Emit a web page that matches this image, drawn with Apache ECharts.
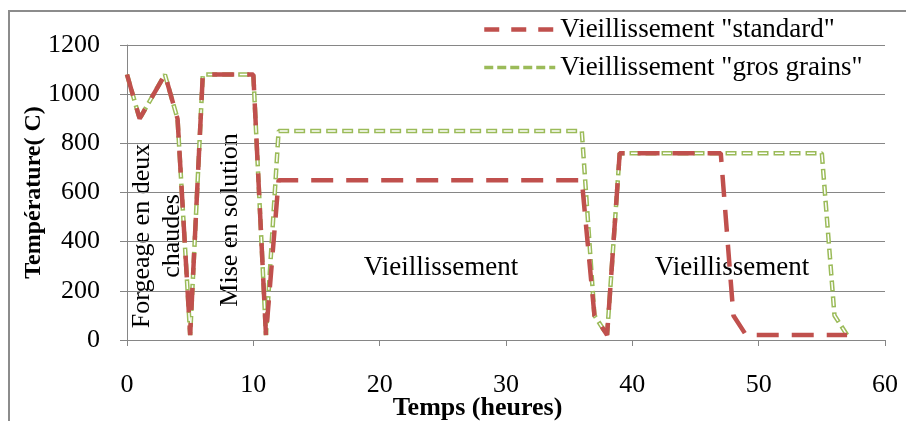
<!DOCTYPE html>
<html>
<head>
<meta charset="utf-8">
<script src="https://cdn.jsdelivr.net/npm/echarts@6/dist/echarts.min.js"></script>
<style>
  html, body { margin: 0; padding: 0; background: #fff; }
  #chart { width: 906px; height: 421px; }
</style>
</head>
<body>
<div id="chart"></div>
<script>
// data (hours, °C)
const hoursStandard = [0, 1, 3, 4, 5, 6, 10, 11, 12, 36, 37, 38, 39, 47, 48, 49, 57]
const tempStandard = [1080, 900, 1080, 900, 20, 1080, 1080, 20, 650, 650, 100, 20, 760, 760, 100, 20, 20]
const hoursGros = [0, 1, 3, 4, 5, 6, 10, 11, 12, 36, 37, 38, 39, 55, 56, 57]
const tempGros = [1080, 900, 1080, 900, 20, 1080, 1080, 20, 850, 850, 100, 20, 760, 760, 100, 20]
const seriesNames = ['Vieillissement "standard"', 'Vieillissement "gros grains"']

const FONT = 'Liberation Serif'
const GRID_COLOR = '#868686'
const RED = '#C0504D'
const GREEN = '#9BBB59'

const zip = (xs, ys) => xs.map((x, i) => [x, ys[i]])

const chart = echarts.init(document.getElementById('chart'), null, { renderer: 'canvas' })

const option = {
  animation: false,
  textStyle: { fontFamily: FONT, color: '#000' },
  grid: { left: 127, right: 21, top: 45, bottom: 81, outerBoundsMode: 'none', containLabel: false },
  legend: {
    data: [
      { name: seriesNames[0], lineStyle: { type: [15, 12], width: 4.5, color: RED } },
      { name: seriesNames[1], lineStyle: { type: [9, 4], width: 3.5, color: GREEN } },
    ],
    orient: 'vertical',
    left: 482,
    top: 16,
    padding: 0,
    itemWidth: 71,
    itemHeight: 14,
    itemGap: 11,
    itemStyle: { opacity: 0 }, // no marker dot, just the line
    textStyle: { fontFamily: FONT, fontSize: 27, color: '#000', lineHeight: 27 },
  },
  xAxis: {
    type: 'value',
    min: 0,
    max: 60,
    interval: 10,
    name: 'Temps (heures)',
    nameLocation: 'middle',
    nameGap: 55,
    nameMoveOverlap: false,
    nameTextStyle: { fontFamily: FONT, fontSize: 26, fontWeight: 'bold', color: '#000', padding: [0, 57, 0, 0] },
    axisLine: { lineStyle: { color: GRID_COLOR, width: 1 } },
    axisTick: { show: true, length: 6, lineStyle: { color: GRID_COLOR } },
    axisLabel: { fontFamily: FONT, fontSize: 26, color: '#000', margin: 32 },
    splitLine: { show: false },
  },
  yAxis: {
    type: 'value',
    min: 0,
    max: 1200,
    interval: 200,
    name: 'Température( C)',
    nameLocation: 'middle',
    nameGap: 81,
    nameMoveOverlap: false,
    nameTextStyle: { fontFamily: FONT, fontSize: 24, fontWeight: 'bold', color: '#000' },
    axisLine: { show: true, lineStyle: { color: GRID_COLOR, width: 1 } },
    axisTick: { show: true, length: 7, lineStyle: { color: GRID_COLOR } },
    axisLabel: { fontFamily: FONT, fontSize: 26, color: '#000', margin: 27, formatter: v => String(v) },
    splitLine: { lineStyle: { color: GRID_COLOR, width: 1 } },
  },
  series: [
    {
      name: seriesNames[0],
      type: 'line',
      data: zip(hoursStandard, tempStandard),
      symbol: 'none',
      z: 4,
      lineStyle: { color: RED, width: 4.5, type: [22, 13] },
      itemStyle: { color: RED },
    },
    {
      name: seriesNames[1],
      type: 'line',
      data: zip(hoursGros, tempGros),
      symbol: 'none',
      z: 2,
      lineStyle: { color: GREEN, width: 4.5, type: [11, 5], cap: 'butt' },
      itemStyle: { color: GREEN },
    },
    {
      // white core so the green dashes look hollow
      type: 'line',
      data: zip(hoursGros, tempGros),
      symbol: 'none',
      silent: true,
      z: 3,
      lineStyle: { color: '#ffffff', width: 1.5, type: [8, 8], dashOffset: -1.5, cap: 'butt' },
    },
  ],
  graphic: [
    // outer frame (left + top edges visible in the picture)
    {
      type: 'polyline',
      shape: { points: [[9, 421], [9, 11], [906, 11]] },
      style: { stroke: '#8c8c8c', lineWidth: 2, fill: null },
      silent: true,
    },
    {
      type: 'text',
      x: 157, y: 236,
      rotation: Math.PI / 2,
      style: { text: 'Forgeage en deux\nchaudes', font: '26px "Liberation Serif"', fill: '#000', align: 'center', verticalAlign: 'middle', lineHeight: 30 },
    },
    {
      type: 'text',
      x: 230, y: 220,
      rotation: Math.PI / 2,
      style: { text: 'Mise en solution', font: '26px "Liberation Serif"', fill: '#000', align: 'center', verticalAlign: 'middle' },
    },
    {
      type: 'text',
      x: 441, y: 268,
      style: { text: 'Vieillissement', font: '27px "Liberation Serif"', fill: '#000', align: 'center', verticalAlign: 'middle' },
    },
    {
      type: 'text',
      x: 732, y: 268,
      style: { text: 'Vieillissement', font: '27px "Liberation Serif"', fill: '#000', align: 'center', verticalAlign: 'middle' },
    },
  ],
}

chart.setOption(option)
</script>
</body>
</html>
